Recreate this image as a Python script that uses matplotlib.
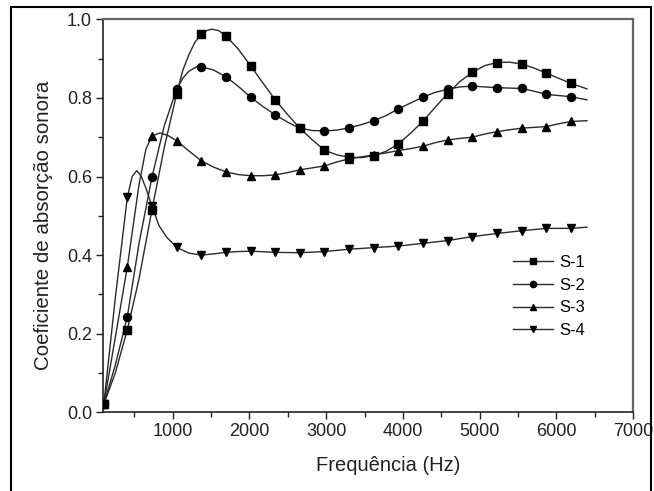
import matplotlib
matplotlib.use("Agg")
import matplotlib.pyplot as plt
from matplotlib.lines import Line2D
from matplotlib.patches import Rectangle

plt.rcParams['font.family'] = ['Liberation Sans', 'DejaVu Sans']

# ---- data ----
series_names = ["S-1", "S-2", "S-3", "S-4"]

# marker frequencies (Hz)
marker_f = [100, 407, 728, 1050, 1371, 1692, 2014, 2335, 2656, 2977,
            3299, 3620, 3941, 4263, 4584, 4905, 5226, 5548, 5869, 6190]

s1_m = [0.02, 0.21, 0.515, 0.81, 0.962, 0.958, 0.882, 0.795, 0.723, 0.667,
        0.649, 0.653, 0.683, 0.741, 0.811, 0.865, 0.890, 0.886, 0.863, 0.837]
s2_m = [0.02, 0.243, 0.598, 0.822, 0.879, 0.854, 0.802, 0.757, 0.723, 0.716,
        0.724, 0.742, 0.772, 0.802, 0.822, 0.830, 0.826, 0.824, 0.809, 0.803]
s3_m = [0.02, 0.37, 0.703, 0.691, 0.640, 0.612, 0.602, 0.604, 0.617, 0.627,
        0.645, 0.655, 0.666, 0.677, 0.693, 0.700, 0.714, 0.723, 0.727, 0.740]
s4_m = [0.02, 0.547, 0.525, 0.420, 0.400, 0.407, 0.410, 0.407, 0.406, 0.409,
        0.415, 0.419, 0.423, 0.430, 0.437, 0.447, 0.455, 0.462, 0.468, 0.468]

# curve points (Hz, coefficient)
s1_f = [100, 250, 407, 560, 728, 890, 1050, 1130, 1210, 1290, 1371, 1440, 1509, 1600,
        1692, 1850, 2014, 2175, 2335, 2500, 2656, 2820, 2977, 3140, 3299, 3460, 3620,
        3780, 3941, 4100, 4263, 4420, 4584, 4745, 4905, 5065, 5226, 5390, 5548, 5710,
        5869, 6030, 6190, 6400]
s1_v = [0.02, 0.10, 0.21, 0.34, 0.515, 0.675, 0.81, 0.87, 0.91, 0.942, 0.962, 0.971, 0.975, 0.971,
        0.958, 0.925, 0.882, 0.838, 0.795, 0.757, 0.723, 0.693, 0.667, 0.655, 0.649, 0.648, 0.653,
        0.664, 0.683, 0.710, 0.741, 0.776, 0.811, 0.842, 0.865, 0.882, 0.890, 0.891, 0.886, 0.876,
        0.863, 0.850, 0.837, 0.823]

s2_f = [100, 250, 407, 560, 728, 890, 1050, 1130, 1210, 1320, 1371, 1530, 1692, 1850,
        2014, 2175, 2335, 2500, 2656, 2820, 2977, 3140, 3299, 3460, 3620, 3780, 3941,
        4100, 4263, 4420, 4584, 4745, 4905, 5065, 5226, 5390, 5548, 5710, 5869, 6030,
        6190, 6400]
s2_v = [0.02, 0.12, 0.243, 0.43, 0.598, 0.73, 0.822, 0.850, 0.868, 0.880, 0.879, 0.871, 0.854, 0.830,
        0.802, 0.778, 0.757, 0.738, 0.723, 0.717, 0.716, 0.718, 0.724, 0.732, 0.742, 0.755, 0.772,
        0.787, 0.802, 0.814, 0.822, 0.828, 0.830, 0.828, 0.826, 0.825, 0.824, 0.817, 0.809, 0.806,
        0.803, 0.795]

s3_f = [100, 250, 407, 560, 650, 728, 834, 940, 1050, 1210, 1371, 1530, 1692, 1850,
        2014, 2175, 2335, 2500, 2656, 2820, 2977, 3140, 3299, 3460, 3620, 3780, 3941,
        4100, 4263, 4420, 4584, 4745, 4905, 5065, 5226, 5390, 5548, 5710, 5869, 6030,
        6190, 6400]
s3_v = [0.02, 0.19, 0.37, 0.58, 0.67, 0.703, 0.711, 0.704, 0.691, 0.665, 0.640, 0.624, 0.612, 0.605,
        0.602, 0.602, 0.604, 0.610, 0.617, 0.622, 0.627, 0.637, 0.645, 0.650, 0.655, 0.660, 0.666,
        0.671, 0.677, 0.686, 0.693, 0.697, 0.700, 0.708, 0.714, 0.719, 0.723, 0.725, 0.727, 0.734,
        0.740, 0.742]

s4_f = [100, 250, 407, 470, 530, 590, 650, 728, 820, 922, 1050, 1210, 1371, 1530, 1692,
        1850, 2014, 2335, 2656, 2977, 3299, 3620, 3941, 4263, 4584, 4905, 5226, 5548,
        5869, 6190, 6400]
s4_v = [0.02, 0.29, 0.547, 0.600, 0.615, 0.600, 0.570, 0.525, 0.475, 0.445, 0.420, 0.405, 0.400, 0.403, 0.407,
        0.409, 0.410, 0.407, 0.406, 0.409, 0.415, 0.419, 0.423, 0.430, 0.437, 0.447, 0.455, 0.462,
        0.468, 0.468, 0.471]

x_major = [1000, 2000, 3000, 4000, 5000, 6000, 7000]
x_minor = [500, 1500, 2500, 3500, 4500, 5500, 6500]
y_major = [0.0, 0.2, 0.4, 0.6, 0.8, 1.0]
y_minor = [0.1, 0.3, 0.5, 0.7, 0.9]

# ---- figure ----
W, H = 654, 491
fig = plt.figure(figsize=(W / 100, H / 100), dpi=100)
ax = fig.add_axes([103 / W, 1 - 412.3 / H, 530 / W, 393 / H])

markers = ['s', 'o', '^', 'v']
msizes = [5.2, 5.8, 6.2, 6.2]
lines_f = [s1_f, s2_f, s3_f, s4_f]
lines_v = [s1_v, s2_v, s3_v, s4_v]
marks_v = [s1_m, s2_m, s3_m, s4_m]

for f, v, mv, mk, ms in zip(lines_f, lines_v, marks_v, markers, msizes):
    ax.plot(f, v, color='#2a2a2a', lw=1.0, zorder=2)
    ax.plot(marker_f, mv, linestyle='none', marker=mk, ms=ms, color='black', zorder=3)

ax.set_xlim(90, 7000)
ax.set_ylim(0, 1.0)
ax.set_xticks(x_major)
ax.set_xticks(x_minor, minor=True)
ax.set_yticks(y_major)
ax.set_yticks(y_minor, minor=True)
ax.set_yticklabels([f"{t:.1f}" for t in y_major])

ax.tick_params(which='major', direction='out', length=5, width=1.0, labelsize=13,
               pad=3, colors='#222222', top=False, right=False)
ax.tick_params(which='minor', direction='out', length=3.5, width=1.0,
               top=False, right=False, colors='#222222')

for side in ['left', 'bottom']:
    ax.spines[side].set_color('#222222')
    ax.spines[side].set_linewidth(1.2)
for side in ['top', 'right']:
    ax.spines[side].set_color('#666666')
    ax.spines[side].set_linewidth(1.6)

ax.set_xlabel("Frequência (Hz)", fontsize=14.5, color='#222222')
ax.set_ylabel("Coeficiente de absorção sonora", fontsize=14.8, color='#222222')
ax.xaxis.set_label_coords(0.538, -0.112)
ax.yaxis.set_label_coords(-0.094, 0.477)

handles = [Line2D([], [], color='#2a2a2a', lw=1.0, marker=mk, ms=4.5, mfc='black', mec='black')
           for mk in markers]
ax.legend(handles, series_names, loc='upper left', bbox_to_anchor=((513 - 103) / 530, (412.3 - 255) / 393),
          frameon=False, fontsize=12, handlelength=2.4, handletextpad=0.4, labelspacing=0.46,
          borderpad=0, borderaxespad=0)

# outer frame around the whole picture
fig.patches.append(Rectangle((11 / W, -0.02), (651 - 11) / W, 1.02 - 7 / H,
                             transform=fig.transFigure, fill=False, edgecolor='black',
                             lw=1.5, zorder=10))

fig.savefig("out.png", dpi=100)
